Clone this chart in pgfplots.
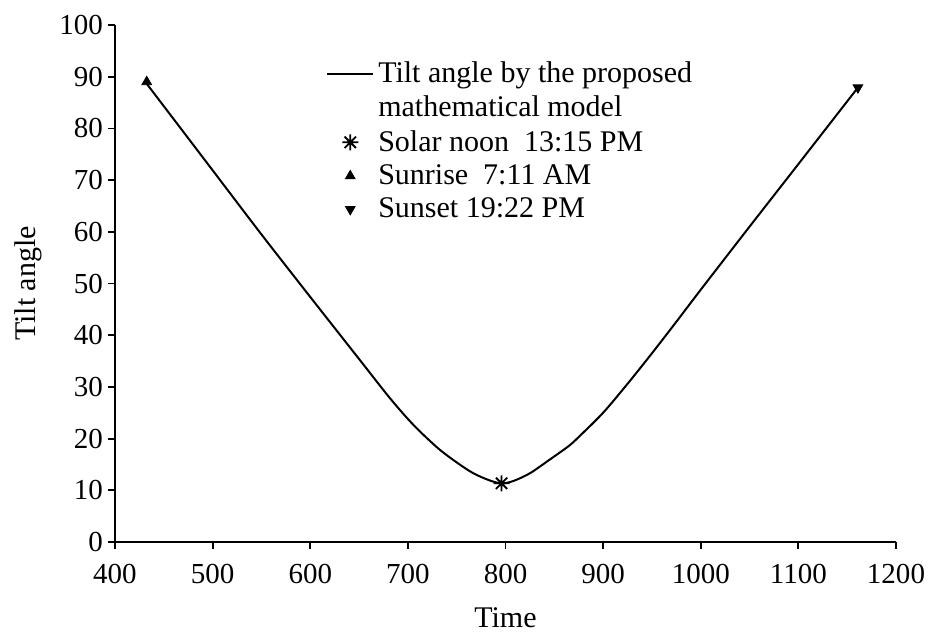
\documentclass[border=0pt]{standalone}
\usepackage{pgfplots}
\pgfplotsset{compat=1.18}
\usepackage{fontspec}
\setmainfont{Liberation Serif}
\pgfdeclareplotmark{ast8}{%
 \pgfpathmoveto{\pgfqpoint{-\pgfplotmarksize}{0pt}}\pgfpathlineto{\pgfqpoint{\pgfplotmarksize}{0pt}}%
 \pgfpathmoveto{\pgfqpoint{0pt}{-\pgfplotmarksize}}\pgfpathlineto{\pgfqpoint{0pt}{\pgfplotmarksize}}%
 \pgfpathmoveto{\pgfqpoint{-0.7071\pgfplotmarksize}{-0.7071\pgfplotmarksize}}\pgfpathlineto{\pgfqpoint{0.7071\pgfplotmarksize}{0.7071\pgfplotmarksize}}%
 \pgfpathmoveto{\pgfqpoint{-0.7071\pgfplotmarksize}{0.7071\pgfplotmarksize}}\pgfpathlineto{\pgfqpoint{0.7071\pgfplotmarksize}{-0.7071\pgfplotmarksize}}%
 \pgfusepathqstroke}
\pgfplotsset{
  lineleg/.style={legend image code/.code={\draw[##1] (0pt,0pt) -- (23pt,0pt);}},
  markleg/.style={legend image code/.code={\draw[##1] plot coordinates {(11.5pt,0pt)};}},
}
\begin{document}
\begin{tikzpicture}
\path[use as bounding box] (-57.5pt,-46pt) rectangle (407pt,271pt);
\begin{axis}[
  at={(0,0)}, anchor=south west,
  scale only axis, width=390.5pt, height=258.5pt,
  xmin=400, xmax=1200, ymin=0, ymax=100,
  axis lines=left, axis line style={-, line width=0.9pt},
  xtick={400,500,...,1200}, ytick={0,10,...,100},
  tick align=outside, major tick length=3.5pt,
  tick style={line width=0.9pt, black},
  /pgf/number format/assume math mode=true,
  /pgf/number format/set thousands separator={},
  tick label style={font=\fontsize{14.5}{16}\selectfont},
  xticklabel style={yshift=-4pt},
  yticklabel style={xshift=1pt},
  label style={font=\fontsize{15}{17}\selectfont},
  xlabel={Time}, ylabel={Tilt angle},
  xlabel style={yshift=-5pt},
  ylabel style={yshift=2pt},
  legend style={at={(axis cs:616,93.4)}, anchor=north west, draw=none, fill=none,
    font=\fontsize{15}{17}\selectfont, inner sep=0pt, row sep=2.8pt,
    nodes={inner xsep=2pt, inner ysep=1.2pt}},
  legend cell align=left,
  clip=false,
]
\addplot[black, line width=1pt, smooth, lineleg] coordinates {
(431,89.0) (450,84.3) (500,71.9) (550,59.5) (600,47.4) (650,35.4) (680,28.2)
(700,23.8) (715,20.9) (733,17.8) (750,15.4) (767,13.3) (784,11.9) (796,11.35)
(808,11.8) (825,13.3) (845,15.9) (865,18.6) (876,20.5) (900,25.0) (925,30.6)
(950,36.5) (975,42.6) (1000,48.8) (1050,61.0) (1100,73.1) (1161,87.9)};
\addlegendentry{Tilt angle by the proposed}
\addlegendimage{empty legend}
\addlegendentry{mathematical model}
\addplot[black, only marks, mark=ast8, mark size=4pt, line width=0.9pt, markleg] coordinates {(796,11.35)};
\addlegendentry{Solar noon\ \ 13:15 PM}
\addplot[black, only marks, mark=triangle*, mark size=2.8pt, markleg] coordinates {(432.5,89.0)};
\addlegendentry{Sunrise\ \ 7:11 AM}
\addplot[black, only marks, mark=triangle*, mark size=2.8pt, mark options={rotate=180}, markleg] coordinates {(1161,87.9)};
\addlegendentry{Sunset 19:22 PM}
\end{axis}
\end{tikzpicture}
\end{document}
